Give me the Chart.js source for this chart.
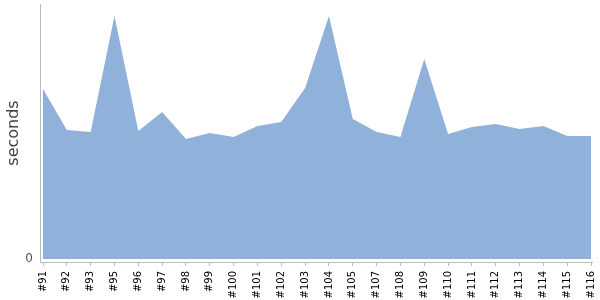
<!DOCTYPE html>
<html>
<head>
<meta charset="utf-8">
<script src="https://cdn.jsdelivr.net/npm/chart.js@4/dist/chart.umd.min.js"></script>
<style>
html,body{margin:0;padding:0;background:#fff;}
#wrap{width:600px;height:300px;}
</style>
</head>
<body>
<div id="wrap"><canvas id="c" width="600" height="300"></canvas></div>
<script>
const builds = ["#91","#92","#93","#95","#96","#97","#98","#99","#100","#101","#102","#103","#104","#105","#107","#108","#109","#110","#111","#112","#113","#114","#115","#116"];
const seconds = [66.7,50.6,49.8,95.3,50.2,57.6,47.1,49.4,47.8,52.2,53.7,67.1,95.3,54.9,49.8,47.8,78.4,49.0,51.8,52.9,51.0,52.2,48.2,48.2];
const yTickValues = [0];

const points = seconds.map((v,i)=>({x:i,y:v}));
new Chart(document.getElementById('c'), {
  type:'line',
  data:{datasets:[{
    data:points,
    fill:'origin',
    backgroundColor:'rgb(143,177,218)',
    borderColor:'rgb(143,177,218)',
    borderWidth:0,
    pointRadius:0,
    tension:0
  }]},
  options:{
    responsive:false,
    animation:false,
    events:[],
    layout:{padding:{top:4,right:8,left:0,bottom:0}},
    plugins:{legend:{display:false},tooltip:{enabled:false}},
    scales:{
      x:{
        type:'linear',
        min:-0.126,
        max:23.04,
        afterBuildTicks:(s)=>{s.ticks = builds.map((b,i)=>({value:i}));},
        afterFit:(s)=>{s.height=38;s.paddingLeft=0;s.paddingRight=0;},
        ticks:{
          autoSkip:false,
          maxRotation:90,minRotation:90,
          padding:5,
          color:'#000',
          font:{family:'DejaVu Sans',size:10},
          callback:(v)=>builds[v]
        },
        grid:{drawOnChartArea:false,tickLength:4,color:'#bbb'},
        border:{display:true,color:'#bbb'}
      },
      y:{
        min:-1.18,
        max:100,
        afterBuildTicks:(s)=>{s.ticks = yTickValues.map(v=>({value:v}));},
        afterFit:(s)=>{s.width=40;s.paddingTop=0;s.paddingBottom=0;},
        ticks:{
          color:'#555',
          padding:7,
          font:{family:'DejaVu Sans',size:12}
        },
        grid:{display:false,drawTicks:false},
        border:{display:true,color:'#bbb'},
        title:{display:true,text:'seconds',color:'#444',padding:{top:4,bottom:0},font:{family:'DejaVu Sans',size:16}}
      }
    }
  }
});
</script>
</body>
</html>
